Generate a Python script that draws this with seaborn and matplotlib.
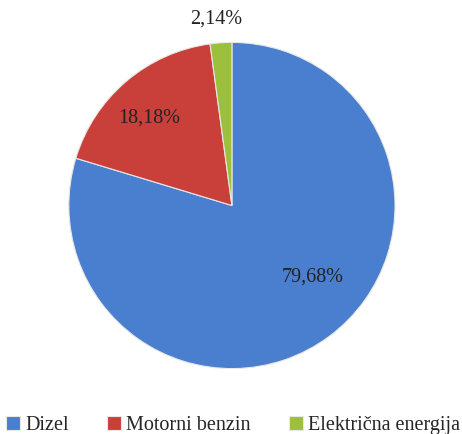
import numpy as np
import seaborn as sns
import matplotlib.pyplot as plt
from matplotlib.font_manager import FontProperties

# Podaci
kategorije = ["Dizel", "Motorni benzin", "Električna energija"]
udjeli = [79.68, 18.18, 2.14]
oznake = ["79,68%", "18,18%", "2,14%"]
boje = ["#4a7fcf", "#c9403b", "#9cbf3c"]
udaljenost = [0.66, 0.74, 1.15]
pomak_kuta = [12, 3, 1]

sns.set_style("white")
plt.rcParams["font.family"] = ["Liberation Serif", "DejaVu Serif"]
font = FontProperties(family=["Liberation Serif", "DejaVu Serif"], size=14.5)

fig = plt.figure(figsize=(4.62, 4.34), dpi=100)
ax = fig.add_axes([0.149, 0.145, 0.706, 0.763])

wedges, _ = ax.pie(udjeli, colors=boje, startangle=90, counterclock=False,
                   wedgeprops=dict(edgecolor="#e8e8e8", linewidth=0.8))

for w, txt, d, p in zip(wedges, oznake, udaljenost, pomak_kuta):
    kut = np.deg2rad((w.theta1 + w.theta2) / 2 + p)
    ax.text(d * np.cos(kut), d * np.sin(kut), txt, ha="center", va="center",
            fontproperties=font, color="#222222")

ax.set_xlim(-1, 1)
ax.set_ylim(-1, 1)
ax.set_aspect("equal")
ax.axis("off")

fig.legend(wedges, kategorije, loc="lower center", bbox_to_anchor=(0.505, -0.045),
           ncol=3, frameon=False, prop=font, handlelength=0.7, handleheight=0.7,
           handletextpad=0.25, columnspacing=1.9)

fig.savefig("out.png", dpi=100)
